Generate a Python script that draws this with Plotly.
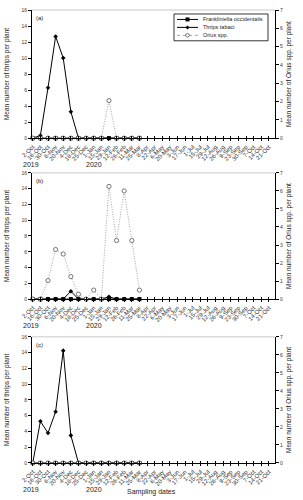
import plotly.graph_objects as go

# ---------------- data ----------------
dates = ["2-Oct", "16-Oct", "30-Oct", "6-Nov", "20-Nov", "4-Dec", "18-Dec", "25-Dec",
         "1-Jan", "15-Jan", "29-Jan", "12-Feb", "26-Feb", "11-Mar", "25-Mar", "8-Apr",
         "22-Apr", "6-May", "20-May", "3-Jun", "17-Jun", "1-Jul", "15-Jul", "29-Jul",
         "12-Aug", "26-Aug", "9-Sep", "23-Sep", "30-Sep", "7-Oct", "14-Oct", "21-Oct"]
sampled = dates[:15]

fo_a = [0, 0, 0, 0, 0, 0, 0, 0, 0, 0, 0, 0, 0, 0, 0]
tt_a = [0, 0.33, 6.3, 12.7, 10.0, 3.3, 0, 0, 0, 0, 0, 0, 0, 0, 0]
or_a = [0, 0, 0, 0, 0, 0, 0, 0, 0, 0, 2.05, 0, 0, 0, 0]

fo_b = [0, 0, 0, 0, 0, 0, 0, 0, 0, 0, 0, 0, 0, 0, 0]
tt_b = [0, 0, 0, 0, 0, 1.0, 0, 0, 0, 0, 0.3, 0, 0, 0, 0]
or_b = [0, 0, 1.03, 2.75, 2.5, 1.25, 0.27, 0, 0.5, 0, 6.25, 3.25, 6.0, 3.25, 0.5]

fo_c = [0, 0, 0, 0, 0, 0, 0, 0, 0, 0, 0, 0, 0, 0, 0]
tt_c = [0, 5.3, 3.8, 6.5, 14.25, 3.5, 0, 0, 0, 0, 0, 0, 0, 0, 0]
or_c = [0, 0, 0, 0, 0, 0, 0, 0, 0, 0, 0, 0, 0, 0, 0]

panel_names = ["(a)", "(b)", "(c)"]
series_names = ["Frankliniella occidentalis", "Thrips tabaci", "Orius spp."]
years = ["2019", "2020"]

# ---------------- figure ----------------
FONT = "Liberation Sans, Arial, sans-serif"
W, H = 303, 500
ML, MR, MT, MB = 32, 28, 7, 37
PW, PH = W - ML - MR, H - MT - MB


def px(x):
    return (x - ML) / PW


def py(y):
    return (H - MB - y) / PH


domains = [[0.7171, 1.0], [0.3618, 0.6404], [0.0, 0.2785]]
panels = [(fo_a, tt_a, or_a), (fo_b, tt_b, or_b), (fo_c, tt_c, or_c)]

OR_LINE = dict(color="#8a8a8a", width=0.8, dash="1px,1.5px")
OR_MARK = dict(symbol="circle", size=4.2, color="white",
               line=dict(width=0.8, color="#555555"))

fig = go.Figure()
x_idx = list(range(len(dates)))
xs = [dates.index(d) for d in sampled]

for p, (fo, tt, orr) in enumerate(panels):
    n = p + 1
    xa = "x" if n == 1 else f"x{n}"
    ya = "y" if n == 1 else f"y{n}"
    yr = f"y{n + 3}"
    fig.add_trace(go.Scatter(
        x=xs, y=fo, xaxis=xa, yaxis=ya, mode="lines+markers",
        name=series_names[0], showlegend=False, cliponaxis=False,
        line=dict(color="black", width=1),
        marker=dict(symbol="square", size=4, color="black")))
    fig.add_trace(go.Scatter(
        x=xs, y=tt, xaxis=xa, yaxis=ya, mode="lines+markers",
        name=series_names[1], showlegend=False, cliponaxis=False,
        line=dict(color="black", width=1),
        marker=dict(symbol="diamond", size=3.5, color="black")))
    fig.add_trace(go.Scatter(
        x=xs, y=orr, xaxis=xa, yaxis=yr, mode="lines+markers",
        name=series_names[2], showlegend=False, cliponaxis=False,
        line=OR_LINE, marker=OR_MARK))

layout = dict(
    width=W, height=H,
    margin=dict(l=ML, r=MR, t=MT, b=MB),
    paper_bgcolor="white", plot_bgcolor="white",
    font=dict(family=FONT, color="#222222", size=5),
    showlegend=False,
)

annotations = []
shapes = []
for p in range(3):
    n = p + 1
    xk = "xaxis" if n == 1 else f"xaxis{n}"
    yk = "yaxis" if n == 1 else f"yaxis{n}"
    yrk = f"yaxis{n + 3}"
    xa = "x" if n == 1 else f"x{n}"
    ya = "y" if n == 1 else f"y{n}"
    layout[xk] = dict(
        domain=[0, 1], anchor=ya, range=[-0.1, 31.8],
        tickmode="array", tickvals=x_idx, ticktext=dates, tickangle=-45,
        ticks="outside", ticklen=2, tickwidth=0.8, tickcolor="black",
        showline=True, linecolor="black", linewidth=1,
        showgrid=False, zeroline=False,
        tickfont=dict(size=6, family=FONT, color="#333333"))
    layout[yk] = dict(
        domain=domains[p], anchor=xa, range=[0, 16], dtick=2,
        ticks="outside", ticklen=3, tickwidth=0.8, tickcolor="black",
        showline=True, linecolor="black", linewidth=1,
        showgrid=False, zeroline=False,
        tickfont=dict(size=5, family=FONT, color="#333333"))
    layout[yrk] = dict(
        overlaying=ya, side="right", anchor=xa, range=[0, 7], dtick=1,
        ticks="outside", ticklen=3, tickwidth=0.8, tickcolor="black",
        showline=True, linecolor="black", linewidth=1,
        showgrid=False, zeroline=False,
        tickfont=dict(size=5, family=FONT, color="#333333"))
    # inner half of the crossing x ticks
    xo = f"xaxis{n + 6}"
    layout[xo] = dict(
        overlaying=xa, anchor=ya, range=[-0.1, 31.8],
        tickmode="array", tickvals=x_idx, showticklabels=False,
        ticks="inside", ticklen=2, tickwidth=0.8, tickcolor="black",
        showline=False, showgrid=False, zeroline=False)
    fig.add_trace(go.Scatter(x=[None], y=[None], xaxis=f"x{n + 6}", yaxis=ya,
                             showlegend=False, hoverinfo="skip"))
    # light top border
    shapes.append(dict(type="line", xref=f"{xa} domain", yref=f"{ya} domain",
                       x0=0, x1=1, y0=1, y1=1,
                       line=dict(color="#c8c8c8", width=1)))
    # panel label
    annotations.append(dict(text=panel_names[p], xref=f"{xa} domain", yref=f"{ya} domain",
                            x=0.01, y=0.975, xanchor="left", yanchor="top",
                            showarrow=False, font=dict(size=6, family=FONT, color="#222222")))
    # axis titles
    annotations.append(dict(text="Mean number of thrips per plant", xref="paper",
                            yref=f"{ya} domain", x=0, y=0.5, xshift=-25,
                            xanchor="center", yanchor="middle", textangle=-90,
                            showarrow=False, font=dict(size=6.5, family=FONT, color="#222222")))
    annotations.append(dict(text="Mean number of Orius spp. per plant", xref="paper",
                            yref=f"{ya} domain", x=1, y=0.5, xshift=14,
                            xanchor="center", yanchor="middle", textangle=-90,
                            showarrow=False, font=dict(size=6.5, family=FONT, color="#222222")))
    # year labels
    for yt, xv in zip(years, [-0.004, 0.255]):
        annotations.append(dict(text=yt, xref=f"{xa} domain", yref=f"{ya} domain",
                                x=xv, y=0, yshift=-26, xanchor="center", yanchor="middle",
                                showarrow=False, font=dict(size=7, family=FONT, color="#222222")))

annotations.append(dict(text="Sampling dates", xref="paper", yref="paper",
                        x=0.493, y=0, yshift=-29, xanchor="center", yanchor="middle",
                        showarrow=False, font=dict(size=7, family=FONT, color="#222222")))

# ---------------- hand-built legend (panel a) ----------------
LX0, LX1, LY0, LY1 = 174, 268, 11, 38
shapes.append(dict(type="rect", xref="paper", yref="paper",
                   x0=px(LX0), x1=px(LX1), y0=py(LY1), y1=py(LY0),
                   line=dict(color="black", width=0.8), fillcolor="white", layer="above"))
item_y = [16.5, 24.5, 32.5]
for i, name in enumerate(series_names):
    yy = py(item_y[i])
    if i < 2:
        line = dict(color="black", width=1)
    else:
        line = dict(color="#8a8a8a", width=0.8, dash="dot")
    shapes.append(dict(type="line", xref="paper", yref="paper",
                       x0=px(177), x1=px(198), y0=yy, y1=yy, line=line, layer="above"))
    cx = px(187.5)
    if i == 0:
        shapes.append(dict(type="rect", xref="paper", yref="paper",
                           xsizemode="pixel", ysizemode="pixel", xanchor=cx, yanchor=yy,
                           x0=-2, x1=2, y0=-2, y1=2,
                           fillcolor="black", line=dict(width=0), layer="above"))
    elif i == 1:
        shapes.append(dict(type="path", xref="paper", yref="paper",
                           xsizemode="pixel", ysizemode="pixel", xanchor=cx, yanchor=yy,
                           path="M 0 2 L 2 0 L 0 -2 L -2 0 Z",
                           fillcolor="black", line=dict(width=0), layer="above"))
    else:
        shapes.append(dict(type="circle", xref="paper", yref="paper",
                           xsizemode="pixel", ysizemode="pixel", xanchor=cx, yanchor=yy,
                           x0=-1.8, x1=1.8, y0=-1.8, y1=1.8,
                           fillcolor="white", line=dict(color="#555555", width=0.8),
                           layer="above"))
    annotations.append(dict(text=name, xref="paper", yref="paper",
                            x=px(200.5), y=yy, xanchor="left", yanchor="middle",
                            showarrow=False,
                            font=dict(size=5.5, family=FONT, color="#222222")))

layout["annotations"] = annotations
layout["shapes"] = shapes
fig.update_layout(**layout)

fig.write_html("out.html")
